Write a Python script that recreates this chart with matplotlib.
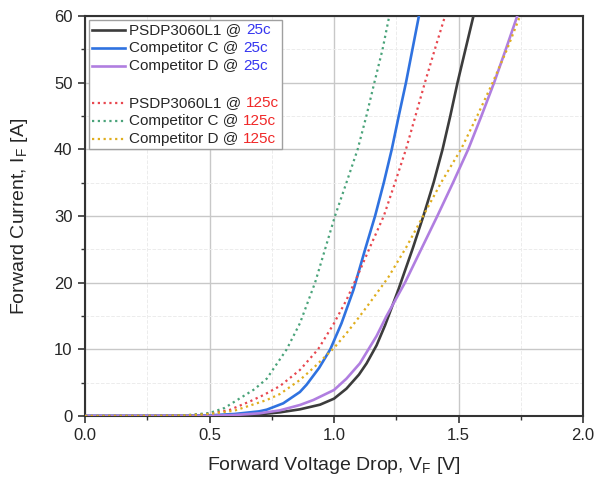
import matplotlib
matplotlib.use("Agg")
import matplotlib.pyplot as plt
from matplotlib.offsetbox import AnchoredOffsetbox, VPacker, HPacker, TextArea, DrawingArea
from matplotlib.lines import Line2D
from matplotlib.ticker import MultipleLocator

plt.rcParams['font.family'] = ['Liberation Sans', 'DejaVu Sans']
plt.rcParams['mathtext.default'] = 'regular'

# ---- data ----
v_psdp_25 = [0, 0.5, 0.6, 0.7, 0.783, 0.863, 0.944, 1.0, 1.05, 1.1, 1.131, 1.171, 1.205, 1.258,
             1.315, 1.359, 1.4, 1.436, 1.467, 1.496, 1.528, 1.56]
i_psdp_25 = [0, 0.02, 0.1, 0.25, 0.55, 1.0, 1.7, 2.6, 4.1, 6.2, 7.9, 10.6, 13.6, 18.9,
             25, 30, 35, 40, 45, 50, 55, 60]

v_compc_25 = [0, 0.4, 0.5, 0.6, 0.7, 0.73, 0.796, 0.863, 0.89, 0.94, 0.985, 1.03, 1.078, 1.125,
              1.165, 1.2, 1.232, 1.26, 1.289, 1.315, 1.341]
i_compc_25 = [0, 0.01, 0.1, 0.3, 0.7, 0.95, 1.9, 3.6, 4.7, 7.2, 10, 13.9, 18.9, 25,
              30, 35, 40, 45, 50, 55, 60]

v_compd_25 = [0, 0.5, 0.6, 0.7, 0.783, 0.863, 0.917, 1.0, 1.05, 1.104, 1.171, 1.211, 1.285,
              1.35, 1.415, 1.478, 1.539, 1.592, 1.643, 1.69, 1.736]
i_compd_25 = [0, 0.03, 0.15, 0.4, 0.85, 1.65, 2.4, 3.9, 5.6, 7.9, 12.0, 15.0, 20,
              25, 30, 35, 40, 45, 50, 55, 60]

v_psdp_125 = [0, 0.3, 0.4, 0.5, 0.58, 0.663, 0.72, 0.783, 0.863, 0.936, 1.0, 1.05, 1.1, 1.15,
              1.2, 1.245, 1.289, 1.327, 1.365, 1.405, 1.446]
i_psdp_125 = [0, 0.02, 0.08, 0.35, 0.9, 2.2, 3.2, 4.5, 6.9, 10, 13.9, 17.4, 21.5, 25.8,
              30, 35, 40, 45, 50, 55, 60]

v_compc_125 = [0, 0.3, 0.4, 0.5, 0.56, 0.622, 0.68, 0.73, 0.81, 0.863, 0.924, 0.96, 1.004, 1.05,
               1.095, 1.13, 1.162, 1.195, 1.222]
i_compc_125 = [0, 0.02, 0.1, 0.45, 1.2, 2.65, 4.0, 5.6, 10, 13.9, 20, 24.5, 30, 35,
               40, 45, 50, 55, 60]

v_compd_125 = [0, 0.3, 0.4, 0.5, 0.6, 0.73, 0.783, 0.863, 0.92, 1.0, 1.05, 1.1, 1.15, 1.218,
               1.29, 1.358, 1.43, 1.51, 1.575, 1.637, 1.695, 1.747]
i_compd_125 = [0, 0.02, 0.07, 0.3, 0.8, 2.4, 3.3, 5.4, 7.3, 10.2, 12.4, 14.8, 17.3, 20.8,
               25.3, 30, 35, 40, 45, 50, 55, 60]

names = ["PSDP3060L1", "Competitor C", "Competitor D"]
temps = ["25c", "125c"]
x_ticks = [0.0, 0.5, 1.0, 1.5, 2.0]
y_ticks = [0, 10, 20, 30, 40, 50, 60]

# ---- styles ----
DOT = (0, (1, 1.6))
series = [
    (v_psdp_25, i_psdp_25, '#3c3c3c', '-', 1.9, 0, 0),
    (v_compc_25, i_compc_25, '#2f72e0', '-', 1.9, 1, 0),
    (v_compd_25, i_compd_25, '#b07ee0', '-', 1.9, 2, 0),
    (v_psdp_125, i_psdp_125, '#e8474f', DOT, 1.6, 0, 1),
    (v_compc_125, i_compc_125, '#4aa37a', DOT, 1.6, 1, 1),
    (v_compd_125, i_compd_125, '#e0ae1e', DOT, 1.6, 2, 1),
]
temp_colors = ['#3535f0', '#f02828']

W, H = 595, 483
fig = plt.figure(figsize=(W / 100, H / 100), dpi=100)
ax = fig.add_axes([85 / W, 1 - 416 / H, (583 - 85) / W, (416 - 16) / H])

for v, i, c, ls, lw, ni, ti in series:
    ax.plot(v, i, color=c, linestyle=ls, linewidth=lw, zorder=3)

ax.set_xlim(0, 2.0)
ax.set_ylim(0, 60)
ax.set_xticks(x_ticks)
ax.set_xticklabels([f"{t:.1f}" for t in x_ticks])
ax.set_yticks(y_ticks)
ax.set_yticklabels([str(t) for t in y_ticks])
ax.xaxis.set_minor_locator(MultipleLocator(0.25))
ax.yaxis.set_minor_locator(MultipleLocator(5))

ax.grid(which='major', color='#c8c8c8', linewidth=1.0, zorder=0)
ax.grid(which='minor', color='#ececec', linewidth=0.7, linestyle='--', zorder=0)
ax.set_axisbelow(True)

for s in ax.spines.values():
    s.set_linewidth(1.5)
    s.set_color('#333333')

ax.tick_params(which='major', direction='out', length=5, width=1.2, color='#333333',
               labelsize=12, labelcolor='#262626', pad=4)
ax.tick_params(which='minor', direction='out', length=3, width=1.0, color='#333333')

ax.set_xlabel('Forward Voltage Drop, V$_{F}$ [V]', fontsize=14, color='#262626', labelpad=8)
ax.set_ylabel('Forward Current, I$_{F}$ [A]', fontsize=14, color='#262626', labelpad=17)

# ---- custom legend with coloured temperature suffix ----
rows = []
for k, (v, i, c, ls, lw, ni, ti) in enumerate(series):
    if k == 3:
        rows.append(TextArea(" ", textprops=dict(fontsize=11)))
    da = DrawingArea(24, 8, 0, 0)
    da.add_artist(Line2D([0, 24], [4, 4], color=c, linestyle=ls, linewidth=lw))
    t1 = TextArea(names[ni] + " @", textprops=dict(fontsize=11, color='#262626'))
    t2 = TextArea(temps[ti], textprops=dict(fontsize=11, color=temp_colors[ti]))
    txt = HPacker(children=[t1, t2], align='baseline', pad=0, sep=3)
    rows.append(HPacker(children=[da, txt], align='center', pad=0, sep=3))
box = VPacker(children=rows, align='left', pad=0, sep=3.0)
anch = AnchoredOffsetbox(loc='upper left', child=box, pad=0.2, borderpad=0.25,
                         frameon=True, bbox_to_anchor=(0, 1), bbox_transform=ax.transAxes,
                         prop=dict(size=11))
anch.patch.set_edgecolor('#a0a0a0')
anch.patch.set_facecolor('white')
anch.patch.set_linewidth(1.0)
anch.zorder = 5
ax.add_artist(anch)

fig.savefig('out.png', dpi=100)
